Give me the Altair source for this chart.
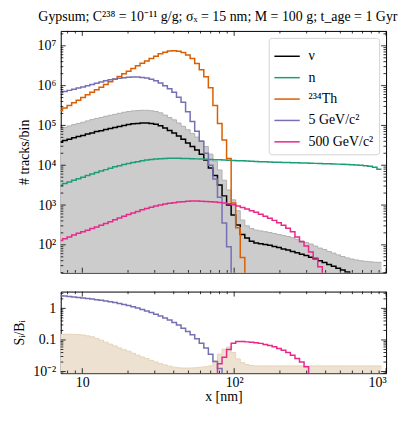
import altair as alt
import pandas as pd

SERIF = "Liberation Serif"
FS = 14

# ---------------- binning: log-spaced bins in x [nm] ----------------
LOG_X0 = 0.84
LOG_DX = 0.03
N_BINS = 71
bin_edges = [10 ** (LOG_X0 + LOG_DX * k) for k in range(N_BINS + 1)]

# ---------------- top panel: tracks per bin ----------------
nu = [3.8e4, 4.2e4, 4.5e4, 4.9e4, 5.25e4, 5.6e4, 6.1e4, 6.5e4, 7.0e4, 7.4e4,
      7.9e4, 8.4e4, 8.9e4, 9.4e4, 1.0e5, 1.05e5, 1.1e5, 1.12e5, 1.15e5, 1.15e5,
      1.12e5, 1.07e5, 9.8e4, 8.6e4, 7.5e4, 6.5e4, 5.4e4, 4.5e4, 3.6e4, 2.95e4,
      2.4e4, 1.9e4, 1.35e4, 8.5e3, 5.5e3, 3.2e3, 1.7e3, 1.0e3, 560, 316,
      182, 148, 123, 112, 107, 102, 98, 91, 86, 79,
      74, 68, 63, 58, 54, 49, 45, 40, 36, 32,
      29, 26, 23.4, 20.9, 18.6, 16.6, 14.8, 13.2, 11.7, 10.5, 9.3]

background_band = [8.1e4, 8.9e4, 9.7e4, 1.05e5, 1.12e5, 1.2e5, 1.3e5, 1.4e5, 1.5e5, 1.58e5,
                   1.7e5, 1.8e5, 1.9e5, 2.02e5, 2.14e5, 2.24e5, 2.32e5, 2.37e5, 2.4e5, 2.4e5,
                   2.34e5, 2.24e5, 2.07e5, 1.82e5, 1.58e5, 1.38e5, 1.15e5, 9.5e4, 7.8e4, 6.3e4,
                   5.1e4, 4.1e4, 2.95e4, 1.9e4, 1.26e4, 7.6e3, 4.2e3, 2.4e3, 1.35e3, 720,
                   420, 300, 257, 234, 224, 214, 204, 193, 182, 172,
                   162, 151, 138, 126, 115, 105, 93, 83, 76, 68,
                   62, 56, 51, 47, 44, 41.7, 39.8, 38.5, 37.6, 36.7, 36.3]

neutrons = [3160, 3470, 3800, 4170, 4570, 5010, 5500, 6030, 6610, 7160,
            7760, 8410, 9120, 9770, 1.047e4, 1.109e4, 1.175e4, 1.23e4, 1.288e4, 1.349e4,
            1.396e4, 1.429e4, 1.462e4, 1.479e4, 1.496e4, 1.496e4, 1.496e4, 1.479e4, 1.479e4, 1.462e4,
            1.445e4, 1.429e4, 1.413e4, 1.396e4, 1.38e4, 1.365e4, 1.349e4, 1.334e4, 1.318e4, 1.303e4,
            1.288e4, 1.274e4, 1.259e4, 1.245e4, 1.23e4, 1.216e4, 1.202e4, 1.194e4, 1.186e4, 1.175e4,
            1.167e4, 1.159e4, 1.148e4, 1.14e4, 1.132e4, 1.122e4, 1.114e4, 1.107e4, 1.096e4, 1.086e4,
            1.076e4, 1.067e4, 1.057e4, 1.047e4, 1.033e4, 1.016e4, 9950, 9700, 9380, 8910, 7940]

th234 = [2.34e5, 2.75e5, 3.16e5, 3.72e5, 4.27e5, 5.0e5, 5.9e5, 6.8e5, 7.9e5, 9.1e5,
         1.07e6, 1.26e6, 1.45e6, 1.7e6, 2.0e6, 2.29e6, 2.69e6, 3.16e6, 3.63e6, 4.17e6,
         4.79e6, 5.5e6, 6.3e6, 6.9e6, 7.4e6, 7.5e6, 7.3e6, 6.8e6, 5.9e6, 4.8e6,
         3.6e6, 2.5e6, 1.66e6, 8.9e5, 3.16e5, 1.12e5, 4.3e4, 1.48e4, 1.12e3, 269,
         48, 0, 0, 0, 0, 0, 0, 0, 0, 0,
         0, 0, 0, 0, 0, 0, 0, 0, 0, 0,
         0, 0, 0, 0, 0, 0, 0, 0, 0, 0, 0]

wimp_5gev = [6.6e5, 7.1e5, 7.6e5, 8.1e5, 8.7e5, 9.3e5, 1.0e6, 1.07e6, 1.15e6, 1.23e6,
             1.32e6, 1.4e6, 1.46e6, 1.53e6, 1.58e6, 1.62e6, 1.64e6, 1.64e6, 1.6e6, 1.55e6,
             1.45e6, 1.32e6, 1.17e6, 1.0e6, 8.3e5, 6.8e5, 5.1e5, 3.8e5, 2.2e5, 1.26e5,
             7.1e4, 4.0e4, 2.0e4, 1.0e4, 4.5e3, 1.58e3, 355, 89, 0, 0,
             0, 0, 0, 0, 0, 0, 0, 0, 0, 0,
             0, 0, 0, 0, 0, 0, 0, 0, 0, 0,
             0, 0, 0, 0, 0, 0, 0, 0, 0, 0, 0]

wimp_500gev = [129, 143, 158, 176, 195, 214, 234, 257, 282, 309,
               343, 380, 427, 473, 525, 575, 631, 692, 759, 822,
               881, 944, 1000, 1059, 1109, 1148, 1189, 1216, 1245, 1259,
               1259, 1245, 1230, 1216, 1189, 1161, 1122, 1072, 1012, 944,
               871, 794, 724, 661, 589, 525, 468, 412, 359, 309,
               263, 214, 158, 120, 93, 66, 47, 28, 17.8, 0,
               0, 0, 0, 0, 0, 0, 0, 0, 0, 0, 0]

# ---------------- bottom panel: S_i / B_i ----------------
ratio_band = [0.151, 0.151, 0.151, 0.150, 0.148, 0.143, 0.135, 0.126, 0.112, 0.098,
              0.085, 0.074, 0.065, 0.056, 0.049, 0.044, 0.038, 0.033, 0.029, 0.0257,
              0.0226, 0.020, 0.0178, 0.0162, 0.0148, 0.0138, 0.0132, 0.0129, 0.0129, 0.0130,
              0.0133, 0.0138, 0.0143, 0.0151, 0.0219, 0.0355, 0.0513, 0.0603, 0.0398, 0.0251,
              0.0191, 0.0166, 0.0155, 0.0151, 0.0151, 0.0151, 0.0151, 0.0151, 0.0151, 0.0151,
              0.0151, 0.0151, 0.0151, 0.0151, 0.0151, 0.0151, 0.0151, 0.0151, 0.0151, 0.0151,
              0.0151, 0.0151, 0.0151, 0.0151, 0.0151, 0.0151, 0.0151, 0.0151, 0.0151, 0.0151, 0.0151]

ratio_5gev = [2.51, 2.45, 2.37, 2.29, 2.21, 2.14, 2.04, 1.97, 1.88, 1.80,
              1.72, 1.62, 1.53, 1.43, 1.33, 1.23, 1.12, 1.02, 0.92, 0.83,
              0.74, 0.65, 0.57, 0.50, 0.43, 0.355, 0.295, 0.234, 0.186, 0.145,
              0.110, 0.079, 0.056, 0.0355, 0.0209, 0.0126, 0.0079, 0, 0, 0,
              0, 0, 0, 0, 0, 0, 0, 0, 0, 0,
              0, 0, 0, 0, 0, 0, 0, 0, 0, 0,
              0, 0, 0, 0, 0, 0, 0, 0, 0, 0, 0]

ratio_500gev = [0, 0, 0, 0, 0, 0, 0, 0, 0, 0,
                0, 0, 0, 0, 0, 0, 0, 0, 0, 0,
                0, 0, 0, 0, 0, 0, 0, 0, 0, 0,
                0, 0, 0, 0, 0, 0.0178, 0.0282, 0.050, 0.079, 0.089,
                0.089, 0.087, 0.084, 0.081, 0.078, 0.072, 0.067, 0.061, 0.054, 0.047,
                0.040, 0.033, 0.026, 0.020, 0.0141, 0.0085, 0, 0, 0, 0,
                0, 0, 0, 0, 0, 0, 0, 0, 0, 0, 0]

series_names = ["ν", "n", "²³⁴Th", "5 GeV/c²", "500 GeV/c²"]
series_colors = ["#000000", "#1b9e77", "#d95f02", "#7570b3", "#e7298a"]

# ticks
x_major = [10, 100, 1000]
x_minor = [8, 9, 20, 30, 40, 50, 60, 70, 80, 90, 200, 300, 400, 500, 600, 700, 800, 900]
y1_major = [1e2, 1e3, 1e4, 1e5, 1e6, 1e7]
y1_minor = [m * 10 ** k for k in range(1, 8) for m in range(2, 10) if m * 10 ** k <= 2.3e7]
y2_major = [0.01, 0.1, 1]
y2_minor = [0.009] + [m * 10 ** k for k in (-2, -1, 0) for m in range(2, 10) if m * 10 ** k <= 3.4]


def step_table(series, floor):
    rows = []
    for name, vals in series:
        for k in range(N_BINS + 1):
            v = vals[min(k, N_BINS - 1)]
            rows.append({"x": bin_edges[k], "y": v if v > 0 else floor, "y0": floor, "series": name})
    return pd.DataFrame(rows)


W, H1, H2 = 327, 243, 82
xscale = alt.Scale(type="log", domain=[7.21, 1000], nice=False)
y1scale = alt.Scale(type="log", domain=[20, 2.37e7], nice=False)
y2scale = alt.Scale(type="log", domain=[0.0089, 3.4], nice=False)

Y1_EXPR = ("datum.value < 5e2 ? '10²' : datum.value < 5e3 ? '10³' : datum.value < 5e4 ? '10⁴' : "
           "datum.value < 5e5 ? '10⁵' : datum.value < 5e6 ? '10⁶' : '10⁷'")
Y2_EXPR = "datum.value < 0.05 ? '10⁻²' : datum.value < 0.5 ? '0.1' : '1'"
X_EXPR = "datum.value < 50 ? '10' : datum.value < 500 ? '10²' : '10³'"


def axis_spec(values, expr, title, **kw):
    base = dict(values=values, ticks=False, domain=False, grid=False, labelPadding=5,
                labelExpr=expr, title=title)
    base.update(kw)
    return alt.Axis(**base)


def enc(xfield, yfield, xaxis, yaxis, yscale):
    xa = alt.X(xfield, scale=xscale, axis=xaxis() if xaxis else None)
    ya = alt.Y(yfield, scale=yscale, axis=yaxis() if yaxis else None, stack=None)
    return xa, ya


def tick_layers(H, yscale, ymaj, ymin, xaxis, yaxis):
    out = []
    for vals, L in [(x_major, 5), (x_minor, 2.6)]:
        base = alt.Chart(pd.DataFrame({"v": vals})).mark_rule(color="black", strokeWidth=0.8)
        xa = alt.X("v:Q", scale=xscale, axis=xaxis() if xaxis else None)
        out.append(base.encode(x=xa, y=alt.value(H), y2=alt.value(H - L)))
        out.append(base.encode(x=xa, y=alt.value(0), y2=alt.value(L)))
    for vals, L in [(ymaj, 5), (ymin, 2.6)]:
        base = alt.Chart(pd.DataFrame({"v": vals})).mark_rule(color="black", strokeWidth=0.8)
        ya = alt.Y("v:Q", scale=yscale, axis=yaxis() if yaxis else None)
        out.append(base.encode(y=ya, x=alt.value(0), x2=alt.value(L)))
        out.append(base.encode(y=ya, x=alt.value(W - L), x2=alt.value(W)))
    return out


# ---- top panel ----
top_y_axis = lambda: axis_spec(y1_major, Y1_EXPR, "# tracks/bin", titlePadding=6)

band_df = step_table([("band", background_band)], 1e-3)
lines_df = step_table(list(zip(series_names, [nu, neutrons, th234, wimp_5gev, wimp_500gev])), 1e-3)

xa, ya = enc("x:Q", "y:Q", None, top_y_axis, y1scale)
gray_area = alt.Chart(band_df).mark_area(interpolate="step-after", color="#cccccc", clip=True).encode(
    x=xa, y=ya, y2=alt.Y2("y0:Q"))
gray_edge = alt.Chart(band_df).mark_line(interpolate="step-after", color="#b0b0b0", strokeWidth=1, clip=True).encode(
    x=xa, y=ya)
lines = alt.Chart(lines_df).mark_line(interpolate="step-after", strokeWidth=1.5, clip=True).encode(
    x=xa, y=ya,
    color=alt.Color("series:N", scale=alt.Scale(domain=series_names, range=series_colors),
                    legend=alt.Legend(title=None, orient="top-right", offset=7, padding=5,
                                      fillColor="white", strokeColor="#d4d4d4", cornerRadius=3,
                                      symbolType="stroke", symbolSize=650, symbolStrokeWidth=1.5,
                                      labelFont=SERIF, labelFontSize=FS, labelOffset=8,
                                      rowPadding=0.5, labelLimit=200)),
)

top = alt.layer(gray_area, gray_edge, lines,
                *tick_layers(H1, y1scale, y1_major, y1_minor, None, top_y_axis)).properties(
    width=W, height=H1,
    title=alt.TitleParams(text="Gypsum; C²³⁸ = 10⁻¹¹ g/g; σₓ = 15 nm; M = 100 g; t_age = 1 Gyr",
                          anchor="middle", dx=-5.5, limit=362, offset=7,
                          font=SERIF, fontSize=FS, fontWeight="normal"),
)

# ---- bottom panel ----
bot_y_axis = lambda: axis_spec(y2_major, Y2_EXPR, "Sᵢ/Bᵢ", titlePadding=6)
bot_x_axis = lambda: axis_spec(x_major, X_EXPR, "x [nm]", titlePadding=0, labelPadding=2)

rband_df = step_table([("band", ratio_band)], 1e-6)
r5_df = step_table([("5", ratio_5gev)], 1e-6)
r500_df = step_table([("500", ratio_500gev)], 1e-6)

xb, yb = enc("x:Q", "y:Q", bot_x_axis, bot_y_axis, y2scale)
beige_area = alt.Chart(rband_df).mark_area(interpolate="step-after", color="#ede1d1", clip=True).encode(
    x=xb, y=yb, y2=alt.Y2("y0:Q"))
beige_edge = alt.Chart(rband_df).mark_line(interpolate="step-after", color="#e6d3b8", strokeWidth=1, clip=True).encode(
    x=xb, y=yb)
r5 = alt.Chart(r5_df).mark_line(interpolate="step-after", color="#7570b3", strokeWidth=1.5, clip=True).encode(
    x=xb, y=yb)
r500 = alt.Chart(r500_df).mark_line(interpolate="step-after", color="#e7298a", strokeWidth=1.5, clip=True).encode(
    x=xb, y=yb)

bottom = alt.layer(beige_area, beige_edge, r5, r500,
                   *tick_layers(H2, y2scale, y2_major, y2_minor, bot_x_axis, bot_y_axis)).properties(
    width=W, height=H2)

chart = (
    alt.vconcat(top, bottom, spacing=17)
    .resolve_scale(color="independent")
    .properties(padding={"left": 4, "top": 0, "right": 0, "bottom": 5})
    .configure(style={"group-title": {"ellipsis": ""}})
    .configure_view(stroke="black", strokeWidth=1)
    .configure_axis(labelFont=SERIF, titleFont=SERIF, labelFontSize=FS, titleFontSize=FS,
                    labelColor="black", titleColor="black", titleFontWeight="normal")
    .configure_title(font=SERIF, fontSize=FS, fontWeight="normal", color="black")
)

chart.save("out.html", embed_options={"renderer": "svg", "actions": False})
